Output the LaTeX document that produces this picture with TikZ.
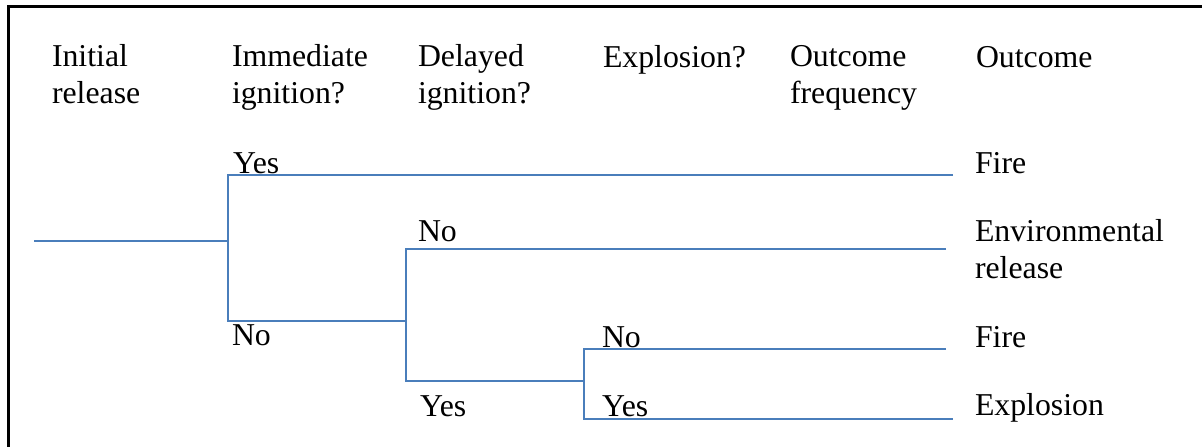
\documentclass[tikz,border=0pt]{standalone}
\usepackage{fontspec}
\setmainfont{Liberation Serif}
\definecolor{branch}{HTML}{4A7EBB}
\begin{document}
\begin{tikzpicture}[x=1pt,y=-1pt,
  branchline/.style={draw=branch,line width=1.8pt,line cap=butt,line join=miter},
  lbl/.style={anchor=base west,inner sep=0pt,outer sep=0pt,align=left,
    font=\fontsize{31.8}{36.5}\selectfont}]
\useasboundingbox (0,0) rectangle (1202,447);
% frame
\draw[line width=3pt] (8,447) -- (8,6) -- (1202,6);

% column headings (two-line nodes are placed by their last baseline)
\node[lbl] (hInit) at (52,103) {Initial\\release};
\node[lbl] (hImm) at (232,103) {Immediate\\ignition?};
\node[lbl] (hDel) at (418,103) {Delayed\\ignition?};
\node[lbl] (hExp) at (603,67) {Explosion?};
\node[lbl] (hFreq) at (790,103) {Outcome\\frequency};
\node[lbl] (hOut) at (976,67) {Outcome};

% branch points
\coordinate (start) at (34,241);
\coordinate (imm) at (228,241);
\coordinate (immY) at (228,175);
\coordinate (immN) at (228,321);
\coordinate (del) at (406,321);
\coordinate (delN) at (406,249);
\coordinate (delY) at (406,381);
\coordinate (exp) at (584,381);
\coordinate (expN) at (584,349);
\coordinate (expY) at (584,419);
% line ends
\coordinate (end1) at (953,175);
\coordinate (end2) at (946,249);
\coordinate (end3) at (946,349);
\coordinate (end4) at (953,419);

% tree
\path[branchline] (start) -- (imm);
\path[branchline] (end1) -- (immY) -- (immN) -- (del);
\path[branchline] (end2) -- (delN) -- (delY) -- (exp);
\path[branchline] (end3) -- (expN) -- (expY) -- (end4);

% branch labels
\node[lbl] (lImmY) at (233,173) {Yes};
\node[lbl] (lImmN) at (232,345) {No};
\node[lbl] (lDelN) at (418,241) {No};
\node[lbl] (lDelY) at (420,416) {Yes};
\node[lbl] (lExpN) at (602,347) {No};
\node[lbl] (lExpY) at (602,416) {Yes};

% outcomes
\node[lbl] (o1) at (975,173) {Fire};
\node[lbl] (o2) at (975,278) {Environmental\\release};
\node[lbl] (o3) at (975,347) {Fire};
\node[lbl] (o4) at (975,415) {Explosion};
\end{tikzpicture}
\end{document}
